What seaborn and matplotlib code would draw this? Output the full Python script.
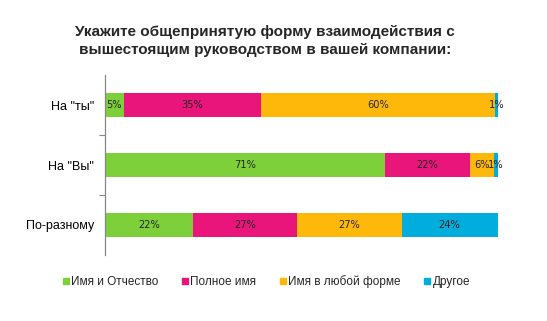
import matplotlib
matplotlib.use("Agg")
import matplotlib.pyplot as plt
import seaborn as sns
import pandas as pd
import numpy as np
from matplotlib.lines import Line2D

categories = ['На "ты"', 'На "Вы"', 'По-разному']
series_names = ["Имя и Отчество", "Полное имя", "Имя в любой форме", "Другое"]
imya_otchestvo = [4.8, 71.2, 22.3]
polnoe_imya = [34.8, 21.6, 26.6]
imya_lyubaya = [59.7, 6.1, 26.6]
drugoe = [0.7, 1.1, 24.4]
colors = ["#7ED03B", "#EA157A", "#FEB80A", "#00ADDC"]
title = "Укажите общепринятую форму взаимодействия с\nвышестоящим руководством в вашей компании:"

sns.set_theme(style="white")
plt.rcParams['font.family'] = ['Liberation Sans', 'DejaVu Sans']

series = [imya_otchestvo, polnoe_imya, imya_lyubaya, drugoe]
df = pd.DataFrame({name: vals for name, vals in zip(series_names, series)}, index=categories)
cum = df.cumsum(axis=1)

fig = plt.figure(figsize=(5.47, 3.21), dpi=100)
ax = fig.add_axes([105/547, 1-255/321, (498-105)/547, 180/321])

for i in range(len(series_names) - 1, -1, -1):
    d = pd.DataFrame({"cat": categories, "val": cum.iloc[:, i].values})
    sns.barplot(data=d, x="val", y="cat", orient="h", color=colors[i],
                saturation=1, width=0.4, ax=ax, edgecolor="none", linewidth=0)

for r, cat in enumerate(categories):
    for i in range(len(series_names)):
        v = df.iloc[r, i]
        left = cum.iloc[r, i] - v
        ax.text(left + v / 2, r, f"{int(round(v))}%", ha="center", va="center",
                fontsize=7.1, color="#262626", family="DejaVu Sans")

ax.set_xlim(0, 100)
ax.set_ylim(2.5, -0.5)
ax.set_xlabel("")
ax.set_ylabel("")
ax.set_xticks([])
ax.set_yticks([0.5, 1.5], minor=False)
ax.set_yticklabels([])
ax.set_yticks([0, 1, 2], minor=True)
ax.set_yticklabels(categories, minor=True, fontsize=9, color="#000000")
ax.tick_params(axis="y", which="minor", length=0, pad=8)
ax.tick_params(axis="y", which="major", length=4, width=0.8, color="#868686", left=True, direction="out")
for s in ["top", "right", "bottom"]:
    ax.spines[s].set_visible(False)
ax.spines["left"].set_color("#868686")
ax.spines["left"].set_linewidth(0.9)

fig.text(0.485, 1 - 41/321, title, ha="center", va="center", fontsize=11,
         fontweight="bold", linespacing=1.3)

handles = [Line2D([0], [0], marker="s", linestyle="none", markersize=4.5,
                  markerfacecolor=c, markeredgecolor=c) for c in colors]
fig.legend(handles, series_names, loc="center", bbox_to_anchor=(0.487, 1 - 282/321),
           ncol=4, frameon=False, fontsize=8.5, handlelength=0.5, handletextpad=0.2,
           columnspacing=2.0)

fig.savefig("out.png", dpi=100, facecolor="white")
